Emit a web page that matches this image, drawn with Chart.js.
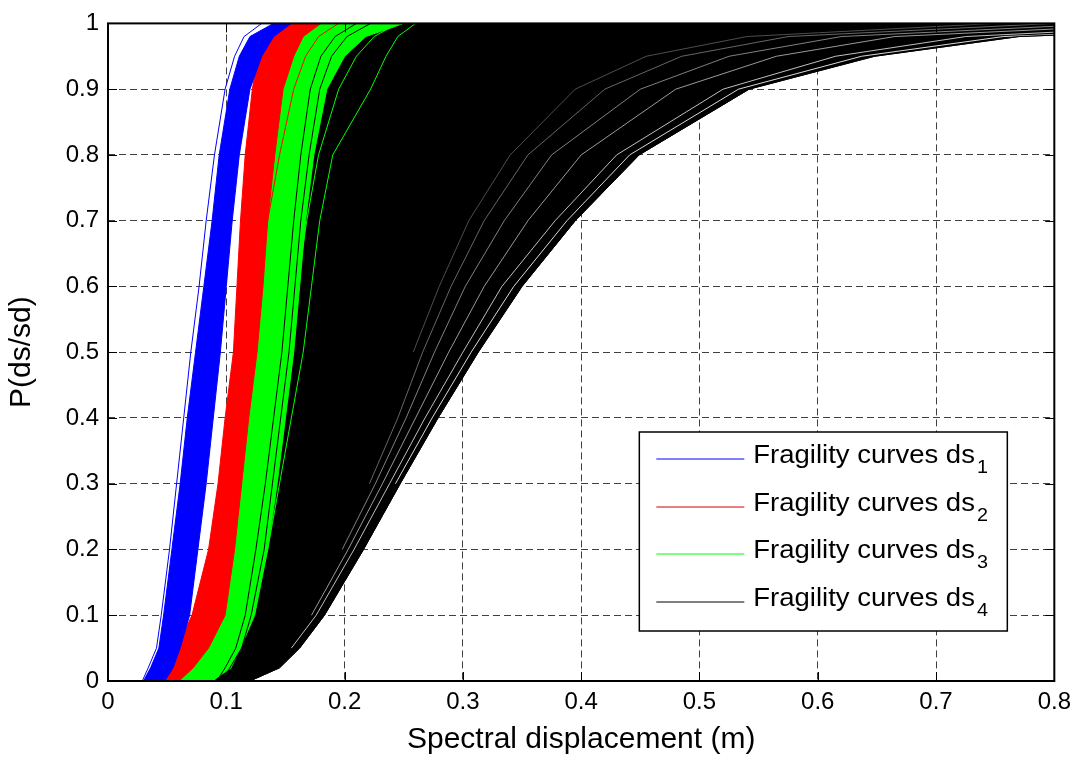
<!DOCTYPE html>
<html>
<head>
<meta charset="utf-8">
<script src="https://cdn.jsdelivr.net/npm/chart.js@4.4.1/dist/chart.umd.min.js"></script>
<style>
  html, body { margin: 0; padding: 0; background: #fff; }
  #wrap { width: 1078px; height: 760px; position: relative; }
</style>
</head>
<body>
<div id="wrap"><canvas id="c" width="1078" height="760"></canvas></div>
<script>
// ---------- DATA ----------
// Probability levels at which the x (spectral displacement, m) of each curve was read
const probLevels = [0, 0.02, 0.05, 0.1, 0.2, 0.3, 0.4, 0.5, 0.6, 0.7, 0.8, 0.9, 0.95, 0.98, 1];

// ds1 (blue) envelope and an outlying curve
const ds1Left  = [0.030, 0.036, 0.043, 0.047, 0.054, 0.061, 0.067, 0.074, 0.081, 0.088, 0.094, 0.103, 0.111, 0.120, 0.140];
const ds1Right = [0.048, 0.055, 0.061, 0.069, 0.076, 0.083, 0.089, 0.095, 0.100, 0.105, 0.111, 0.120, 0.130, 0.140, 0.155];
const ds1Edge  = [0.029, 0.034, 0.041, 0.045, 0.052, 0.058, 0.064, 0.070, 0.077, 0.083, 0.090, 0.099, 0.107, 0.115, 0.130];

// ds2 (red) envelope and an outlying curve
const ds2Left  = [0.041, 0.049, 0.058, 0.071, 0.085, 0.093, 0.099, 0.106, 0.109, 0.112, 0.116, 0.122, 0.127, 0.133, 0.142];
const ds2Right = [0.060, 0.072, 0.085, 0.099, 0.107, 0.113, 0.119, 0.126, 0.131, 0.135, 0.141, 0.148, 0.157, 0.165, 0.180];
const ds2Edge  = [0.050, 0.062, 0.075, 0.088, 0.100, 0.108, 0.115, 0.122, 0.128, 0.135, 0.145, 0.157, 0.167, 0.178, 0.195];

// ds3 (green) envelope and two outlying curves
const ds3Left  = [0.055, 0.066, 0.080, 0.094, 0.103, 0.110, 0.116, 0.122, 0.127, 0.131, 0.137, 0.144, 0.152, 0.160, 0.175];
const ds3Right = [0.088, 0.104, 0.112, 0.124, 0.135, 0.143, 0.150, 0.157, 0.162, 0.167, 0.174, 0.185, 0.200, 0.218, 0.250];
const ds3EdgeA = [0.080, 0.097, 0.108, 0.118, 0.130, 0.138, 0.146, 0.153, 0.160, 0.168, 0.178, 0.195, 0.210, 0.225, 0.245];
const ds3EdgeB = [0.085, 0.100, 0.112, 0.122, 0.135, 0.145, 0.155, 0.165, 0.172, 0.179, 0.190, 0.222, 0.235, 0.245, 0.260];

// ds4 (black) envelope, two early curves and the gaps between the late curves
const ds4Left  = [0.090, 0.100, 0.108, 0.115, 0.125, 0.132, 0.138, 0.144, 0.149, 0.153, 0.159, 0.166, 0.176, 0.192, 0.215];
const ds4Outer = [0.120, 0.145, 0.162, 0.183, 0.216, 0.247, 0.279, 0.313, 0.350, 0.395, 0.449, 0.542, 0.648, 0.770, 1.050];
const ds4EarlyA = [0.092, 0.099, 0.108, 0.116, 0.125, 0.133, 0.140, 0.147, 0.152, 0.157, 0.163, 0.171, 0.180, 0.192, 0.210];
const ds4EarlyB = [0.096, 0.103, 0.113, 0.121, 0.132, 0.139, 0.146, 0.153, 0.158, 0.163, 0.170, 0.179, 0.189, 0.202, 0.222];
const ds4Gap1 = [null, null, 0.155, 0.176, 0.208, 0.238, 0.268, 0.300, 0.333, 0.378, 0.430, 0.520, 0.615, 0.725, 0.950];
const ds4Gap2 = [null, null, null, 0.172, 0.203, 0.232, 0.260, 0.288, 0.318, 0.355, 0.400, 0.480, 0.565, 0.665, 0.900];
const ds4Gap3 = [null, null, null, null, 0.198, 0.226, 0.252, 0.276, 0.302, 0.335, 0.375, 0.450, 0.525, 0.620, 0.850];
const ds4Gap4 = [null, null, null, null, null, 0.221, 0.245, 0.266, 0.290, 0.318, 0.355, 0.420, 0.485, 0.575, 0.800];
const ds4Gap5 = [null, null, null, null, null, null, null, 0.258, 0.280, 0.305, 0.340, 0.395, 0.455, 0.540, 0.750];
const ds4Gap6 = [null, null, null, null, null, 0.243, 0.274, 0.307, 0.343, 0.388, 0.441, 0.533, 0.637, 0.757, 1.030];

// Axes
const xTickValues = [0, 0.1, 0.2, 0.3, 0.4, 0.5, 0.6, 0.7, 0.8];
const xTickLabels = ['0', '0.1', '0.2', '0.3', '0.4', '0.5', '0.6', '0.7', '0.8'];
const yTickValues = [0, 0.1, 0.2, 0.3, 0.4, 0.5, 0.6, 0.7, 0.8, 0.9, 1];
const yTickLabels = ['0', '0.1', '0.2', '0.3', '0.4', '0.5', '0.6', '0.7', '0.8', '0.9', '1'];
const xTitle = 'Spectral displacement (m)';
const yTitle = 'P(ds/sd)';

// Legend
const legendLabels = ['Fragility curves ds', 'Fragility curves ds', 'Fragility curves ds', 'Fragility curves ds'];
const legendSubs = ['1', '2', '3', '4'];
const legendColors = ['#0000ff', '#d00000', '#00ff00', '#000000'];

// ---------- BUILD ----------
const FONT = "'Liberation Sans', Arial, Helvetica, sans-serif";

function curvePoints(xs) {
  const pts = [];
  xs.forEach((x, i) => { if (x !== null) pts.push({ x: x, y: probLevels[i] }); });
  return pts;
}
function bandPoints(left, right) {
  const a = curvePoints(left);
  const b = curvePoints(right).reverse();
  return a.concat(b);
}

const layers = [
  { data: bandPoints(ds4Left, ds4Outer), color: '#000000', fill: true },
  { data: curvePoints(ds4Gap1), color: 'rgba(255,255,255,0.75)' },
  { data: curvePoints(ds4Gap2), color: 'rgba(255,255,255,0.6)' },
  { data: curvePoints(ds4Gap3), color: 'rgba(255,255,255,0.5)' },
  { data: curvePoints(ds4Gap4), color: 'rgba(255,255,255,0.4)' },
  { data: curvePoints(ds4Gap5), color: 'rgba(255,255,255,0.3)' },
  { data: curvePoints(ds4Gap6), color: 'rgba(255,255,255,0.85)' },
  { data: curvePoints(ds4Outer), color: '#000000' },
  { data: bandPoints(ds3Left, ds3Right), color: '#00ff00', fill: true },
  { data: curvePoints(ds3EdgeA), color: '#00ff00' },
  { data: curvePoints(ds3EdgeB), color: '#00ff00' },
  { data: curvePoints(ds4EarlyA), color: '#000000' },
  { data: curvePoints(ds4EarlyB), color: '#000000' },
  { data: bandPoints(ds2Left, ds2Right), color: '#ff0000', fill: true },
  { data: curvePoints(ds2Edge), color: '#ff0000' },
  { data: bandPoints(ds1Left, ds1Right), color: '#0000ff', fill: true },
  { data: curvePoints(ds1Edge), color: '#0000ff' }
];

const N = layers.length;
const datasets = layers.map((l, i) => ({
  data: l.data,
  showLine: true,
  borderColor: l.color,
  backgroundColor: l.color,
  borderWidth: 1,
  pointRadius: 0,
  tension: 0,
  fill: l.fill ? 'shape' : false,
  order: N - i
}));

const boxPlugin = {
  id: 'boxAndTicks',
  afterDatasetsDraw(chart) {
    const { ctx, chartArea: a, scales } = chart;
    ctx.save();
    ctx.strokeStyle = '#000';
    ctx.lineWidth = 1;
    const tl = 9;
    ctx.beginPath();
    xTickValues.forEach(v => {
      const px = Math.round(scales.x.getPixelForValue(v)) + 0.5;
      ctx.moveTo(px, a.bottom); ctx.lineTo(px, a.bottom - tl);
      ctx.moveTo(px, a.top); ctx.lineTo(px, a.top + tl);
    });
    yTickValues.forEach(v => {
      const py = Math.round(scales.y.getPixelForValue(v)) + 0.5;
      ctx.moveTo(a.left, py); ctx.lineTo(a.left + tl, py);
      ctx.moveTo(a.right, py); ctx.lineTo(a.right - tl, py);
    });
    ctx.stroke();
    ctx.lineWidth = 2;
    ctx.strokeRect(a.left, a.top, a.right - a.left, a.bottom - a.top);
    ctx.restore();
  },
  afterDraw(chart) {
    const { ctx, chartArea: a } = chart;
    const boxW = 368, boxH = 199;
    const x0 = a.right - 47 - boxW;
    const y0 = a.bottom - 50 - boxH;
    ctx.save();
    ctx.fillStyle = '#fff';
    ctx.fillRect(x0, y0, boxW, boxH);
    ctx.strokeStyle = '#000';
    ctx.lineWidth = 1.5;
    ctx.strokeRect(x0, y0, boxW, boxH);
    legendLabels.forEach((lab, i) => {
      const ly = Math.round(y0 + 27 + i * 47.7);
      ctx.strokeStyle = legendColors[i];
      ctx.lineWidth = 1;
      ctx.beginPath();
      ctx.moveTo(x0 + 17, ly);
      ctx.lineTo(x0 + 105, ly);
      ctx.stroke();
      ctx.save();
      ctx.translate(x0 + 114, 0);
      ctx.scale(1.1, 1);
      ctx.fillStyle = '#000';
      ctx.textBaseline = 'alphabetic';
      ctx.textAlign = 'left';
      ctx.font = '25px ' + FONT;
      ctx.fillText(lab, 0, ly + 4);
      const w = ctx.measureText(lab).width;
      ctx.font = '18px ' + FONT;
      ctx.fillText(legendSubs[i], w + 2, ly + 14);
      ctx.restore();
    });
    ctx.restore();
  }
};

new Chart(document.getElementById('c'), {
  type: 'scatter',
  data: { datasets },
  options: {
    responsive: false,
    animation: false,
    events: [],
    devicePixelRatio: 1,
    layout: { padding: { top: 19, right: 23, left: 0, bottom: 0 } },
    plugins: { legend: { display: false }, tooltip: { enabled: false } },
    scales: {
      x: {
        type: 'linear', min: 0, max: 0.8,
        afterFit: s => { s.height = 79; },
        afterBuildTicks: s => { s.ticks = xTickValues.map(v => ({ value: v })); },
        ticks: {
          callback: (v, i) => xTickLabels[i],
          font: { family: FONT, size: 24 }, color: '#000', padding: 7,
          maxRotation: 0, autoSkip: false
        },
        grid: { color: 'rgba(0,0,0,0.75)', lineWidth: 1, drawTicks: false },
        border: { display: false, dash: [7, 4] },
        title: { display: true, text: xTitle, color: '#000', font: { family: FONT, size: 30 }, padding: { top: 0, bottom: 2 } }
      },
      y: {
        type: 'linear', min: 0, max: 1,
        afterFit: s => { s.width = 108; },
        afterBuildTicks: s => { s.ticks = yTickValues.map(v => ({ value: v })); },
        ticks: {
          callback: (v, i) => yTickLabels[i],
          font: { family: FONT, size: 24 }, color: '#000', padding: 9, autoSkip: false
        },
        grid: { color: 'rgba(0,0,0,0.75)', lineWidth: 1, drawTicks: false },
        border: { display: false, dash: [7, 4] },
        title: { display: true, text: yTitle, color: '#000', font: { family: FONT, size: 30 }, padding: { top: 4, bottom: 0 } }
      }
    }
  },
  plugins: [boxPlugin]
});
</script>
</body>
</html>
